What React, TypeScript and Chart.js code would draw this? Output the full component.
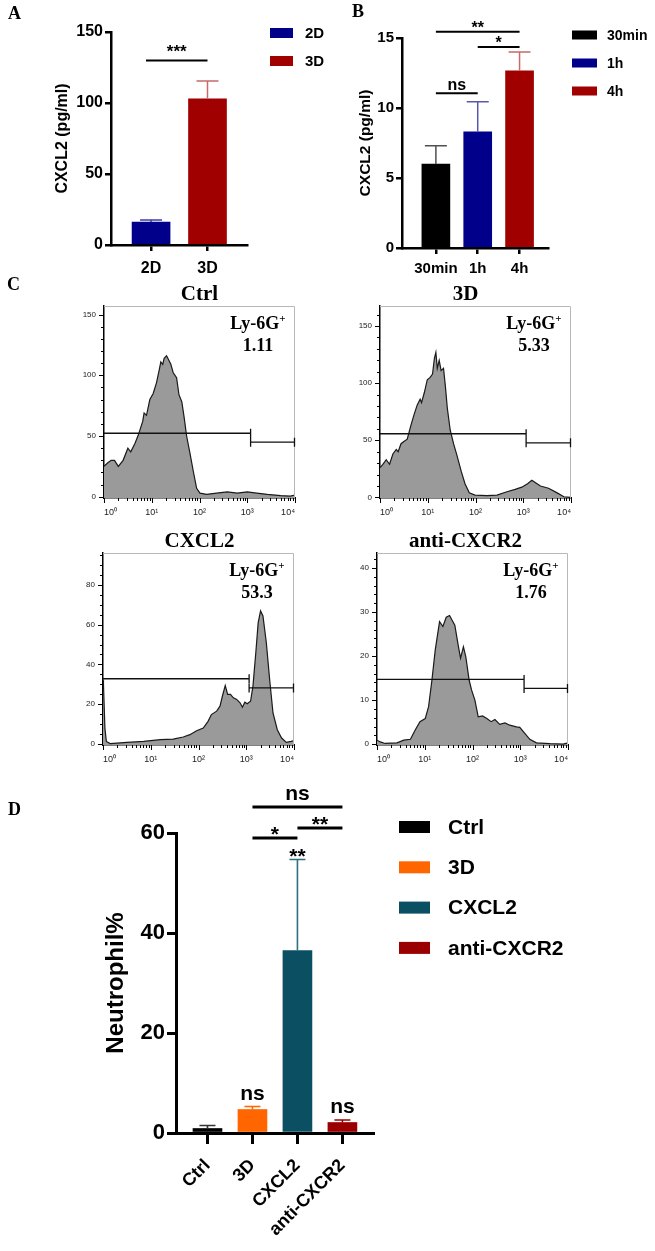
import React, { useEffect, useRef } from 'react';
import { Chart, registerables } from 'chart.js';

Chart.register(...registerables);

const SANS = '"Liberation Sans", Arial, Helvetica, sans-serif';
const SERIF = '"Liberation Serif", "Times New Roman", Times, serif';
Chart.defaults.font.family = SANS;
Chart.defaults.color = '#000';

// ===== Panel A =====
const aCategories = ['2D', '3D'];
const aMeans = [16.2, 103];
const aErrorTops = [17.6, 115.5];
const aColors = ['#00008B', '#A00000'];
const aErrorColors = ['#3c3ca8', '#c86a6a'];
const aYTicks = [0, 50, 100, 150];
const aSigFrom = [0.91];
const aSigTo = [2];
const aSigLevels = [130];
const aSigLabels = ['***'];

// ===== Panel B =====
const bCategories = ['30min', '1h', '4h'];
const bMeans = [6.0, 8.3, 12.65];
const bErrorTops = [7.3, 10.45, 14.0];
const bColors = ['#000000', '#00008B', '#A00000'];
const bErrorColors = ['#505050', '#5858aa', '#c86a6a'];
const bYTicks = [0, 5, 10, 15];
const bSigFrom = [1, 2, 1];
const bSigTo = [3, 3, 2];
const bSigLevels = [15.45, 14.35, 11.05];
const bSigLabels = ['**', '*', 'ns'];

// ===== Panel C (flow cytometry histograms, x = log10 fluorescence) =====
const histDecades = [0, 1, 2, 3, 4];
const histDecadeLabels = ['10⁰', '10¹', '10²', '10³', '10⁴'];
const histMinorMultipliers = [2, 3, 4, 5, 6, 7, 8, 9];

const ctrlLogX = [0, 0.08, 0.15, 0.22, 0.3, 0.4, 0.5, 0.56, 0.65, 0.72, 0.81, 0.84, 0.89, 0.96, 1.03, 1.1, 1.16, 1.19, 1.23, 1.26, 1.31, 1.35, 1.4, 1.45, 1.52, 1.57, 1.63, 1.68, 1.73, 1.8, 1.87, 1.94, 2.01, 2.15, 2.36, 2.58, 2.79, 3.0, 3.2, 3.42, 3.7, 3.9, 4.0];
const ctrlCounts = [25, 28, 30, 30, 25, 30, 40, 37, 44, 51, 62, 69, 67, 80, 85, 94, 105, 111, 109, 114, 116, 113, 109, 102, 98, 84, 78, 65, 50, 36, 21, 7, 3, 2, 3, 4, 3, 4, 3, 2, 1, 0.5, 1.5];
const ctrlGate = [52.3, 44.9];
const ctrlGateSplit = 3.07;
const ctrlPositive = '1.11';

const d3LogX = [0, 0.06, 0.13, 0.2, 0.27, 0.34, 0.38, 0.44, 0.5, 0.57, 0.64, 0.71, 0.78, 0.84, 0.87, 0.93, 0.99, 1.05, 1.1, 1.14, 1.17, 1.2, 1.24, 1.28, 1.33, 1.37, 1.41, 1.47, 1.54, 1.61, 1.7, 1.78, 1.87, 1.99, 2.24, 2.45, 2.66, 2.83, 2.97, 3.09, 3.18, 3.25, 3.36, 3.53, 3.71, 3.85, 3.99];
const d3Counts = [26, 29, 33, 29, 38, 42, 40, 47, 49, 51, 62, 72, 81, 86, 83, 92, 103, 105, 108, 122, 127, 113, 120, 111, 113, 97, 78, 59, 47, 37, 23, 12, 4, 2, 1.5, 2, 5, 7, 9, 12, 15, 13, 10, 8, 4, 0.6, 0];
const d3Gate = [55.7, 47.8];
const d3GateSplit = 3.06;
const d3Positive = '5.33';

const cxclLogX = [0, 0.01, 0.04, 0.07, 0.15, 0.5, 0.85, 1.2, 1.47, 1.68, 1.82, 1.96, 2.1, 2.2, 2.27, 2.38, 2.45, 2.5, 2.56, 2.61, 2.67, 2.73, 2.8, 2.87, 2.92, 2.97, 3.02, 3.09, 3.14, 3.2, 3.25, 3.3, 3.35, 3.42, 3.49, 3.56, 3.65, 3.74, 3.84, 3.94, 4.0];
const cxclCounts = [32, 30, 8, 1.3, 0.2, 0.8, 1.3, 2.2, 2.5, 3.5, 4.7, 6.7, 8, 11.4, 14.8, 16.5, 19, 24, 29.4, 24.9, 24.9, 23.2, 22.4, 20.7, 18.5, 21, 20.2, 21.5, 29, 45.9, 61, 66.9, 64.4, 51, 32.4, 15.6, 7.2, 3, 0.8, 1.3, 1.7];
const cxclGate = [32.8, 28.2];
const cxclGateSplit = 3.06;
const cxclPositive = '53.3';

const antiLogX = [0, 0.07, 0.17, 0.42, 0.56, 0.7, 0.8, 0.9, 1.01, 1.08, 1.15, 1.22, 1.31, 1.38, 1.45, 1.52, 1.57, 1.63, 1.7, 1.75, 1.81, 1.86, 1.93, 1.98, 2.05, 2.12, 2.21, 2.3, 2.39, 2.47, 2.57, 2.68, 2.78, 2.92, 2.99, 3.1, 3.2, 3.34, 3.62, 3.9, 4.0];
const antiCounts = [0.9, 0.5, 0.15, 0.3, 0.9, 1.1, 3.2, 5.1, 5.8, 8.5, 14.5, 21.4, 27.8, 26.7, 28.8, 29.2, 28.2, 27, 22.5, 19.5, 22.1, 19.8, 14.5, 12.3, 10, 6.2, 6.4, 5.8, 5.1, 5.6, 4.5, 4.8, 4.3, 3.9, 3.8, 2.4, 1.1, 0.3, 0.1, 0, 0.3];
const antiGate = [14.7, 12.65];
const antiGateSplit = 3.08;
const antiPositive = '1.76';

const histTitles = ['Ctrl', '3D', 'CXCL2', 'anti-CXCR2'];
const histYMajor = [[0, 50, 100, 150], [0, 50, 100, 150], [0, 20, 40, 60, 80], [0, 10, 20, 30, 40]];
const histYMinorStep = [10, 10, 5, 2];
const histYRange = [[-1, 157], [-0.5, 167.5], [-0.5, 96], [-0.2, 43.4]];
const markerName = 'Ly-6G';

// ===== Panel D =====
const dCategories = ['Ctrl', '3D', 'CXCL2', 'anti-CXCR2'];
const dMeans = [0.9, 4.7, 36.5, 2.1];
const dErrorTops = [1.5, 5.3, 54.7, 2.6];
const dColors = ['#000000', '#FF6600', '#0B4F63', '#9B0000'];
const dErrorColors = ['#333333', '#FF6600', '#2f6f82', '#9B0000'];
const dBarMarks = ['', 'ns', '**', 'ns'];
const dYTicks = [0, 20, 40, 60];
const dSigFrom = [2, 3, 2];
const dSigTo = [3, 4, 4];
const dSigLevels = [59, 61, 65.2];
const dSigLabels = ['*', '**', 'ns'];

// ===== plugins =====
function errorBarsPlugin(tops: number[], colors: string[], cap: number, width: number) {
  return {
    id: 'errorBars',
    afterDatasetsDraw(chart: any) {
      const ctx = chart.ctx;
      const ys = chart.scales.y;
      const meta = chart.getDatasetMeta(0);
      ctx.save();
      ctx.lineWidth = width;
      meta.data.forEach((bar: any, i: number) => {
        const yt = ys.getPixelForValue(tops[i]);
        ctx.strokeStyle = colors[i];
        ctx.beginPath();
        ctx.moveTo(bar.x, bar.y);
        ctx.lineTo(bar.x, yt);
        ctx.moveTo(bar.x - cap / 2, yt);
        ctx.lineTo(bar.x + cap / 2, yt);
        ctx.stroke();
      });
      ctx.restore();
    },
  };
}

const isStars = (s: string) => /^\*+$/.test(s);

function sigPlugin(
  from: number[], to: number[], levels: number[], labels: string[],
  font: string, lineWidth: number, starDy: number, textDy: number,
  marks?: string[], markTops?: number[]
) {
  return {
    id: 'significance',
    afterDraw(chart: any) {
      const ctx = chart.ctx;
      const xs = chart.scales.x;
      const ys = chart.scales.y;
      ctx.save();
      ctx.strokeStyle = '#000';
      ctx.fillStyle = '#000';
      ctx.lineWidth = lineWidth;
      ctx.font = font;
      ctx.textAlign = 'center';
      ctx.textBaseline = 'alphabetic';
      levels.forEach((lv, i) => {
        const x1 = xs.getPixelForValue(from[i]);
        const x2 = xs.getPixelForValue(to[i]);
        const y = ys.getPixelForValue(lv);
        ctx.beginPath();
        ctx.moveTo(x1, y);
        ctx.lineTo(x2, y);
        ctx.stroke();
        ctx.fillText(labels[i], (x1 + x2) / 2, y + (isStars(labels[i]) ? starDy : textDy));
      });
      if (marks && markTops) {
        marks.forEach((t, i) => {
          if (!t) return;
          const x = xs.getPixelForValue(i + 1);
          const y = ys.getPixelForValue(markTops[i]);
          ctx.fillText(t, x, y + (isStars(t) ? starDy : textDy));
        });
      }
      ctx.restore();
    },
  };
}

function legendPlugin(
  labels: string[], colors: string[], boxX: number, firstY: number, gap: number,
  boxW: number, boxH: number, textX: number, font: string
) {
  return {
    id: 'sideLegend',
    afterDraw(chart: any) {
      const ctx = chart.ctx;
      ctx.save();
      ctx.font = font;
      ctx.textAlign = 'left';
      ctx.textBaseline = 'middle';
      labels.forEach((t, i) => {
        const cy = firstY + i * gap;
        ctx.fillStyle = colors[i];
        ctx.fillRect(boxX, cy - boxH / 2, boxW, boxH);
        ctx.fillStyle = '#000';
        ctx.fillText(t, textX, cy + 1);
      });
      ctx.restore();
    },
  };
}

type HistSpec = {
  title: string; titleDx: number; value: string;
  yMajor: number[]; yMinorStep: number; yMax: number;
  gate: number[]; split: number;
};

function flowDecorPlugin(p: HistSpec) {
  return {
    id: 'flowDecor',
    afterDraw(chart: any) {
      const ctx = chart.ctx;
      const a = chart.chartArea;
      const xs = chart.scales.x;
      const ys = chart.scales.y;
      ctx.save();
      // frame (top/right)
      ctx.strokeStyle = '#b8b8b8';
      ctx.lineWidth = 1;
      ctx.beginPath();
      ctx.moveTo(a.left, a.top + 0.5);
      ctx.lineTo(a.right - 0.5, a.top + 0.5);
      ctx.lineTo(a.right - 0.5, a.bottom);
      ctx.stroke();
      // y ticks
      ctx.strokeStyle = '#000';
      ctx.lineWidth = 1;
      for (let v = 0; v <= p.yMax + 1e-6; v += p.yMinorStep) {
        const y = Math.round(ys.getPixelForValue(v)) + 0.5;
        const major = p.yMajor.includes(v);
        const len = major ? 5 : 3;
        ctx.beginPath();
        ctx.moveTo(a.left - len, y);
        ctx.lineTo(a.left, y);
        ctx.stroke();
      }
      // x ticks (log decades)
      histDecades.forEach((d) => {
        const x = Math.round(xs.getPixelForValue(d)) + 0.5;
        ctx.beginPath();
        ctx.moveTo(x, a.bottom);
        ctx.lineTo(x, a.bottom + 5);
        ctx.stroke();
        if (d < 4) {
          histMinorMultipliers.forEach((m) => {
            const xm = Math.round(xs.getPixelForValue(d + Math.log10(m))) + 0.5;
            ctx.beginPath();
            ctx.moveTo(xm, a.bottom);
            ctx.lineTo(xm, a.bottom + 3);
            ctx.stroke();
          });
        }
      });
      // gate
      const yl = ys.getPixelForValue(p.gate[0]);
      const yr = ys.getPixelForValue(p.gate[1]);
      const xsplit = xs.getPixelForValue(p.split);
      ctx.strokeStyle = '#111';
      ctx.lineWidth = 1.3;
      const cap = 4.5;
      ctx.beginPath();
      ctx.moveTo(a.left, yl); ctx.lineTo(xsplit, yl);
      ctx.moveTo(xsplit, yl - cap); ctx.lineTo(xsplit, yl + cap);
      ctx.moveTo(xsplit, yr); ctx.lineTo(a.right, yr);
      ctx.moveTo(xsplit, yr - cap); ctx.lineTo(xsplit, yr + cap);
      ctx.moveTo(a.right - 0.5, yr - cap); ctx.lineTo(a.right - 0.5, yr + cap);
      ctx.stroke();
      // title
      ctx.fillStyle = '#000';
      ctx.textBaseline = 'alphabetic';
      ctx.textAlign = 'center';
      ctx.font = `bold 21px ${SERIF}`;
      ctx.fillText(p.title, (a.left + a.right) / 2 + p.titleDx, a.top - 6);
      // marker text
      const cx = a.right - 37;
      ctx.font = `bold 18px ${SERIF}`;
      const w1 = ctx.measureText(markerName).width;
      ctx.font = `bold 11px ${SERIF}`;
      const w2 = ctx.measureText('+').width;
      const start = cx - (w1 + w2) / 2;
      ctx.textAlign = 'left';
      ctx.font = `bold 18px ${SERIF}`;
      ctx.fillText(markerName, start, a.top + 23);
      ctx.font = `bold 11px ${SERIF}`;
      ctx.fillText('+', start + w1, a.top + 16);
      ctx.textAlign = 'center';
      ctx.font = `bold 18px ${SERIF}`;
      ctx.fillText(p.value, cx, a.top + 45);
      ctx.restore();
    },
  };
}

// ===== config builders =====
type BarSpec = {
  categories: string[]; means: number[]; colors: string[];
  xMin: number; xMax: number; yMax: number; yTicks: number[];
  barThickness: number; pad: { left: number; right: number; top: number; bottom: number };
  yWidth: number; xHeight: number; tickSize: number; xTickSize: number; titleSize: number; yTitle: string;
  axisWidth: number; yTickLen: number; xTickLen: number; rotation: number; xPad: number;
  plugins: any[];
};

function barConfig(c: BarSpec): any {
  return {
    type: 'bar',
    data: {
      datasets: [
        {
          data: c.means.map((v, i) => ({ x: i + 1, y: v })),
          backgroundColor: c.colors,
          borderWidth: 0,
          barThickness: c.barThickness,
        },
      ],
    },
    options: {
      animation: false,
      responsive: false,
      events: [],
      layout: { padding: c.pad },
      plugins: { legend: { display: false }, tooltip: { enabled: false } },
      scales: {
        x: {
          type: 'linear',
          offset: false,
          min: c.xMin,
          max: c.xMax,
          afterBuildTicks: (s: any) => {
            s.ticks = c.categories.map((_, i) => ({ value: i + 1 }));
          },
          afterFit: (s: any) => {
            s.height = c.xHeight;
          },
          grid: { display: true, drawOnChartArea: false, drawTicks: true, tickLength: c.xTickLen, lineWidth: c.axisWidth, color: '#000', offset: false },
          border: { display: true, color: '#000', width: c.axisWidth },
          ticks: {
            font: { family: SANS, size: c.xTickSize, weight: 'bold' },
            color: '#000',
            padding: c.xPad,
            autoSkip: false,
            maxRotation: c.rotation,
            minRotation: c.rotation,
            callback: (v: any) => c.categories[Math.round(Number(v)) - 1] ?? '',
          },
        },
        y: {
          type: 'linear',
          min: 0,
          max: c.yMax,
          afterBuildTicks: (s: any) => {
            s.ticks = c.yTicks.map((v) => ({ value: v }));
          },
          afterFit: (s: any) => {
            s.width = c.yWidth;
          },
          grid: { display: true, drawOnChartArea: false, drawTicks: true, tickLength: c.yTickLen, lineWidth: c.axisWidth, color: '#000' },
          border: { display: true, color: '#000', width: c.axisWidth },
          ticks: {
            font: { family: SANS, size: c.tickSize, weight: 'bold' },
            color: '#000',
            padding: 2,
            callback: (v: any) => String(v),
          },
          title: {
            display: true,
            text: c.yTitle,
            color: '#000',
            font: { family: SANS, size: c.titleSize, weight: 'bold' },
            padding: { top: 4, bottom: 4 },
          },
        },
      },
    },
    plugins: c.plugins,
  };
}

function histConfig(xs: number[], ys: number[], idx: number, spec: HistSpec): any {
  const [yMin, yMax] = histYRange[idx];
  return {
    type: 'line',
    data: {
      datasets: [
        {
          data: xs.map((x, i) => ({ x, y: ys[i] })),
          borderColor: '#1a1a1a',
          borderWidth: 1.2,
          backgroundColor: '#9a9a9a',
          fill: 'start',
          pointRadius: 0,
          tension: 0,
        },
      ],
    },
    options: {
      animation: false,
      responsive: false,
      events: [],
      layout: { padding: { left: 20, right: 25, top: 36, bottom: 5 } },
      plugins: { legend: { display: false }, tooltip: { enabled: false } },
      scales: {
        x: {
          type: 'linear',
          min: 0,
          max: 4,
          afterBuildTicks: (s: any) => {
            s.ticks = histDecades.map((v) => ({ value: v }));
          },
          afterFit: (s: any) => {
            s.height = 22;
          },
          grid: { display: false, drawTicks: true, tickLength: 5 },
          border: { display: true, color: '#000', width: 1.5 },
          ticks: {
            font: { family: SANS, size: 9 },
            color: '#222',
            padding: 4,
            align: 'inner',
            autoSkip: false,
            maxRotation: 0,
            callback: (v: any) => histDecadeLabels[Math.round(Number(v))] ?? '',
          },
        },
        y: {
          type: 'linear',
          min: yMin,
          max: yMax,
          afterBuildTicks: (s: any) => {
            s.ticks = histYMajor[idx].map((v) => ({ value: v }));
          },
          afterFit: (s: any) => {
            s.width = 44;
          },
          grid: { display: false, drawTicks: true, tickLength: 5 },
          border: { display: true, color: '#000', width: 1.5 },
          ticks: {
            font: { family: SANS, size: 8 },
            color: '#222',
            padding: 3,
            callback: (v: any) => String(v),
          },
        },
      },
    },
    plugins: [flowDecorPlugin(spec)],
  };
}

// ===== chart configs =====
const makeA = () =>
  barConfig({
    categories: aCategories, means: aMeans, colors: aColors,
    xMin: 0.29, xMax: 2.7, yMax: 150, yTicks: aYTicks, barThickness: 38,
    pad: { left: 49, right: 83, top: 32, bottom: 15 }, yWidth: 62, xHeight: 30,
    tickSize: 16, xTickSize: 16, titleSize: 16, yTitle: 'CXCL2 (pg/ml)',
    axisWidth: 2.5, yTickLen: 6, xTickLen: 6, rotation: 0, xPad: 8,
    plugins: [
      errorBarsPlugin(aErrorTops, aErrorColors, 22, 1.5),
      sigPlugin(aSigFrom, aSigTo, aSigLevels, aSigLabels, `bold 17px ${SANS}`, 2, -3, -3),
      legendPlugin(aCategories, aColors, 270, 33, 28, 23, 10, 305, `bold 15px ${SANS}`),
    ],
  });

const makeB = () =>
  barConfig({
    categories: bCategories, means: bMeans, colors: bColors,
    xMin: 0.19, xMax: 3.68, yMax: 15, yTicks: bYTicks, barThickness: 28,
    pad: { left: 22, right: 107, top: 38, bottom: 12 }, yWidth: 50, xHeight: 30,
    tickSize: 15, xTickSize: 15, titleSize: 15.5, yTitle: 'CXCL2 (pg/ml)',
    axisWidth: 2.5, yTickLen: 6, xTickLen: 6, rotation: 0, xPad: 6,
    plugins: [
      errorBarsPlugin(bErrorTops, bErrorColors, 22, 1.5),
      sigPlugin(bSigFrom, bSigTo, bSigLevels, bSigLabels, `bold 16px ${SANS}`, 2, 1, -3),
      legendPlugin(bCategories, bColors, 242, 35, 28, 25, 9, 277, `bold 14px ${SANS}`),
    ],
  });

const makeD = () =>
  barConfig({
    categories: dCategories, means: dMeans, colors: dColors,
    xMin: 0.3, xMax: 4.68, yMax: 60, yTicks: dYTicks, barThickness: 29,
    pad: { left: 98, right: 282, top: 63, bottom: 0 }, yWidth: 78, xHeight: 118,
    tickSize: 22, xTickSize: 18, titleSize: 24, yTitle: 'Neutrophil%',
    axisWidth: 3, yTickLen: 9, xTickLen: 11, rotation: 45, xPad: 11,
    plugins: [
      errorBarsPlugin(dErrorTops, dErrorColors, 16, 1.6),
      sigPlugin(dSigFrom, dSigTo, dSigLevels, dSigLabels, `bold 21px ${SANS}`, 3, 3, -7, dBarMarks, dErrorTops),
      legendPlugin(dCategories, dColors, 399, 57, 40.3, 31, 12, 448, `bold 21px ${SANS}`),
    ],
  });

const histData = [
  { xs: ctrlLogX, ys: ctrlCounts, gate: ctrlGate, split: ctrlGateSplit, value: ctrlPositive },
  { xs: d3LogX, ys: d3Counts, gate: d3Gate, split: d3GateSplit, value: d3Positive },
  { xs: cxclLogX, ys: cxclCounts, gate: cxclGate, split: cxclGateSplit, value: cxclPositive },
  { xs: antiLogX, ys: antiCounts, gate: antiGate, split: antiGateSplit, value: antiPositive },
];
const histTitleDx = [0, -10, 1, -7];
const histPlacement = [
  { left: 40, top: 270 },
  { left: 316, top: 270 },
  { left: 39, top: 517 },
  { left: 313, top: 517 },
];

const makeHist = (i: number) => () => {
  const h = histData[i];
  return histConfig(h.xs, h.ys, i, {
    title: histTitles[i],
    titleDx: histTitleDx[i],
    value: h.value,
    yMajor: histYMajor[i],
    yMinorStep: histYMinorStep[i],
    yMax: histYRange[i][1],
    gate: h.gate,
    split: h.split,
  });
};

function ChartCanvas(props: { left: number; top: number; width: number; height: number; make: () => any }) {
  const ref = useRef<HTMLCanvasElement>(null);
  useEffect(() => {
    const chart = new Chart(ref.current as HTMLCanvasElement, props.make());
    return () => chart.destroy();
  }, []);
  return (
    <canvas
      ref={ref}
      width={props.width}
      height={props.height}
      style={{ position: 'absolute', left: props.left, top: props.top, width: props.width, height: props.height }}
    />
  );
}

const letterStyle: React.CSSProperties = {
  position: 'absolute',
  fontFamily: SERIF,
  fontWeight: 'bold',
  fontSize: 18,
  lineHeight: '18px',
  color: '#000',
};

export default function App() {
  return (
    <div style={{ position: 'absolute', left: 0, top: 0, width: 655, height: 1251, background: '#fff', overflow: 'hidden' }}>
      <ChartCanvas left={0} top={0} width={330} height={290} make={makeA} />
      <ChartCanvas left={330} top={0} width={325} height={290} make={makeB} />
      {histPlacement.map((p, i) => (
        <ChartCanvas key={i} left={p.left} top={p.top} width={280} height={255} make={makeHist(i)} />
      ))}
      <ChartCanvas left={0} top={770} width={655} height={481} make={makeD} />
      <div style={{ ...letterStyle, left: 8, top: 4 }}>A</div>
      <div style={{ ...letterStyle, left: 352, top: 2 }}>B</div>
      <div style={{ ...letterStyle, left: 7, top: 275 }}>C</div>
      <div style={{ ...letterStyle, left: 8, top: 800 }}>D</div>
    </div>
  );
}
